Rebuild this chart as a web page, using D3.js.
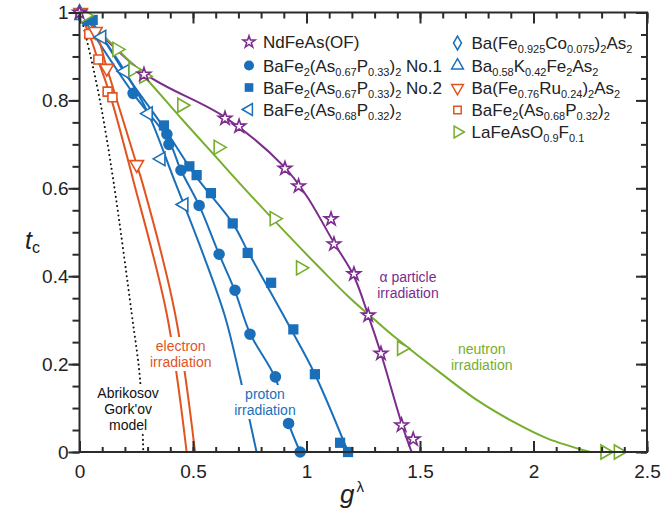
<!DOCTYPE html>
<html>
<head>
<meta charset="utf-8">
<script src="https://cdn.jsdelivr.net/npm/d3@7"></script>
<style>
  body { margin: 0; background: #fff; }
  svg { display: block; }
</style>
</head>
<body>
<div class="container"></div>
<script>
// ---- data (g_lambda, t_c) ----
const ndStars = [[0,1],[0.284,0.859],[0.641,0.759],[0.703,0.741],[0.905,0.645],[0.965,0.605],
  [1.108,0.530],[1.121,0.473],[1.209,0.405],[1.272,0.311],[1.328,0.224],[1.419,0.061],[1.470,0.029]];
const p1Circles = [[0.03,0.982],[0.236,0.816],[0.385,0.723],[0.394,0.700],[0.447,0.641],[0.527,0.561],
  [0.615,0.450],[0.685,0.368],[0.751,0.268],[0.863,0.171],[0.921,0.065],[0.972,0]];
const p2Squares = [[0.058,0.983],[0.372,0.743],[0.484,0.650],[0.516,0.630],[0.579,0.589],[0.675,0.520],
  [0.741,0.453],[0.844,0.385],[0.942,0.279],[1.037,0.177],[1.148,0.021],[1.183,0]];
const p3Triangles = [[0.098,0.944],[0.200,0.866],[0.303,0.770],[0.359,0.667],[0.460,0.563]];
const coDiamonds = [[0.0,1.0]];
const kTriangles = [[0.008,0.992]];
const ruTriangles = [[0.005,1.0],[0.070,0.957],[0.120,0.873],[0.252,0.654]];
const pSquares = [[0.005,0.995],[0.043,0.951],[0.083,0.893],[0.124,0.820],[0.145,0.807]];
const laTriangles = [[0.024,0.993],[0.165,0.916],[0.236,0.870],[0.284,0.855],[0.451,0.789],[0.611,0.693],
  [0.858,0.531],[0.974,0.419],[1.419,0.236],[2.315,0],[2.374,0]];

// guide curves
const ndFit = [[0,1],[0.284,0.862],[0.64,0.762],[0.90,0.650],[1.0,0.583],[1.121,0.476],[1.209,0.400],
  [1.272,0.311],[1.328,0.224],[1.419,0.065],[1.463,0]];
const laFit = [[0,1],[0.1,0.95],[0.284,0.855],[0.443,0.762],[0.6,0.672],[0.74,0.592],[0.94,0.482],
  [1.06,0.418],[1.19,0.351],[1.32,0.292],[1.40,0.257],[1.6,0.176],[1.76,0.115],[1.91,0.069],
  [2.06,0.031],[2.249,0]];
const p1Fit = [[0,1],[0.236,0.816],[0.39,0.712],[0.447,0.641],[0.527,0.561],[0.615,0.450],[0.685,0.366],
  [0.751,0.270],[0.863,0.168],[0.921,0.065],[0.972,0]];
const p2Fit = [[0,1],[0.058,0.975],[0.2,0.862],[0.369,0.740],[0.513,0.627],[0.678,0.518],[0.741,0.457],
  [0.84,0.365],[0.93,0.281],[1.037,0.177],[1.183,0]];
const p3Fit = [[0,1],[0.098,0.944],[0.2,0.866],[0.303,0.770],[0.413,0.625],[0.53,0.47],[0.64,0.31],
  [0.707,0.17],[0.78,0]];
const ruFit = [[0,1],[0.07,0.957],[0.12,0.875],[0.252,0.654],[0.274,0.618],[0.421,0.315],[0.509,0]];
const pFit = [[0,1],[0.043,0.95],[0.083,0.89],[0.135,0.812],[0.237,0.618],[0.384,0.315],[0.472,0]];
const agModel = [[0,1],[0.029,0.944],[0.09,0.80],[0.15,0.615],[0.23,0.315],[0.267,0.164],[0.281,0]];

const xMajor = [0,0.5,1,1.5,2,2.5];
const yMajor = [0,0.2,0.4,0.6,0.8,1];

const legendLeft = ["NdFeAs(OF)", "BaFe_{2}(As_{0.67}P_{0.33})_{2} No.1",
  "BaFe_{2}(As_{0.67}P_{0.33})_{2} No.2", "BaFe_{2}(As_{0.68}P_{0.32})_{2}"];
const legendRight = ["Ba(Fe_{0.925}Co_{0.075})_{2}As_{2}", "Ba_{0.58}K_{0.42}Fe_{2}As_{2}",
  "Ba(Fe_{0.76}Ru_{0.24})_{2}As_{2}", "BaFe_{2}(As_{0.68}P_{0.32})_{2}", "LaFeAsO_{0.9}F_{0.1}"];

const purple = "#7b2c8d", blue = "#1a6fba", orange = "#e1541f", green = "#76ae2d";
const font = "'Liberation Sans', Arial, sans-serif";

const w = 661, h = 525;
const svg = d3.select('.container').append('svg')
  .attr('width', w).attr('height', h)
  .style('font-family', font);

const x = d3.scaleLinear().domain([0, 2.5]).range([79.5, 647]);
const y = d3.scaleLinear().domain([0, 1]).range([452, 12.5]);

const line = d3.line().x(d => x(d[0])).y(d => y(d[1])).curve(d3.curveCatmullRom.alpha(0.5));

// curves
[[ndFit, purple], [laFit, green], [p1Fit, blue], [p2Fit, blue], [p3Fit, blue],
 [ruFit, orange], [pFit, orange]].forEach(function(c) {
  svg.append('path').attr('d', line(c[0]))
    .attr('fill', 'none').attr('stroke', c[1]).attr('stroke-width', 2);
});
svg.append('path').attr('d', line(agModel))
  .attr('fill', 'none').attr('stroke', '#111').attr('stroke-width', 2)
  .attr('stroke-dasharray', '0.1 4.6').attr('stroke-linecap', 'round');

// annotations, with white box behind them
function note(lines, gx, base, color, step) {
  const g = svg.append('g');
  const t = g.append('text').attr('text-anchor', 'middle')
    .attr('font-size', 14).attr('fill', color);
  lines.forEach(function(s, i) {
    t.append('tspan').attr('x', x(gx)).attr('y', base + i * step).text(s);
  });
  const b = t.node().getBBox();
  g.insert('rect', 'text').attr('x', b.x - 2).attr('y', b.y - 1)
    .attr('width', b.width + 4).attr('height', b.height + 2).attr('fill', '#fff');
}
note(['α particle', 'irradiation'], 1.447, 282, purple, 16);
note(['neutron', 'irradiation'], 1.772, 354, green, 16);
note(['electron', 'irradiation'], 0.446, 351, orange, 16);
note(['proton', 'irradiation'], 0.817, 399, blue, 16);
note(['Abrikosov', "Gork'ov", 'model'], 0.214, 398, '#111', 16);

// markers
function markers(pts, type, size, rot, color, filled) {
  svg.append('g').selectAll('path').data(pts).enter().append('path')
    .attr('d', d3.symbol().type(type).size(size))
    .attr('transform', d => 'translate(' + x(d[0]) + ',' + y(d[1]) + ') rotate(' + rot + ')')
    .attr('fill', filled ? color : '#fff')
    .attr('stroke', color).attr('stroke-width', filled ? 0 : 1.6);
}
markers(pSquares, d3.symbolSquare, 80, 0, orange, false);
markers(ruTriangles, d3.symbolTriangle, 80, 180, orange, false);
markers(p3Triangles, d3.symbolTriangle, 80, -90, blue, false);
markers(kTriangles, d3.symbolTriangle, 65, 0, blue, false);
markers(coDiamonds, d3.symbolDiamond, 65, 0, blue, false);
markers(p1Circles, d3.symbolCircle, 105, 0, blue, true);
markers(p2Squares, d3.symbolSquare, 105, 0, blue, true);
markers(laTriangles, d3.symbolTriangle, 85, 90, green, false);
markers(ndStars, d3.symbolStar, 55, 0, purple, false);

// axes frame and ticks
const axisColor = '#2b2b2b';
const minorX = d3.range(0, 2.501, 0.1).map(v => +v.toFixed(2));
const minorY = d3.range(0, 1.001, 0.05).map(v => +v.toFixed(2));

function tickAxis(axis, tr, vals, size) {
  const g = svg.append('g').attr('transform', tr)
    .call(axis.tickValues(vals).tickSize(size).tickFormat(''));
  g.select('.domain').remove();
  g.selectAll('line').attr('stroke', axisColor).attr('stroke-width', 2);
}
tickAxis(d3.axisBottom(x), 'translate(0,452)', minorX, -5);
tickAxis(d3.axisBottom(x), 'translate(0,452)', xMajor, -11);
tickAxis(d3.axisTop(x), 'translate(0,12.5)', minorX, -6);
tickAxis(d3.axisTop(x), 'translate(0,12.5)', xMajor, -11);
tickAxis(d3.axisLeft(y), 'translate(79.5,0)', minorY, 7);
tickAxis(d3.axisLeft(y), 'translate(79.5,0)', yMajor, 11);
tickAxis(d3.axisRight(y), 'translate(647,0)', minorY, -6);
tickAxis(d3.axisRight(y), 'translate(647,0)', yMajor, -11);

svg.append('rect').attr('x', 79.5).attr('y', 12.5)
  .attr('width', 647 - 79.5).attr('height', 452 - 12.5)
  .attr('fill', 'none').attr('stroke', axisColor).attr('stroke-width', 2);

// tick labels
const xl = svg.append('g').attr('transform', 'translate(0,452)')
  .call(d3.axisBottom(x).tickValues(xMajor).tickSize(0).tickPadding(13).tickFormat(d3.format('~g')));
xl.select('.domain').remove();
xl.selectAll('text').attr('font-size', 19).attr('font-family', font).attr('fill', '#222');

const yl = svg.append('g').attr('transform', 'translate(79.5,0)')
  .call(d3.axisLeft(y).tickValues(yMajor).tickSize(0).tickPadding(11).tickFormat(d3.format('~g')));
yl.select('.domain').remove();
yl.selectAll('text').attr('font-size', 19).attr('font-family', font).attr('fill', '#222');

// axis titles
const yt = svg.append('text').attr('x', 25).attr('y', 249).attr('fill', '#222');
yt.append('tspan').attr('font-size', 25).attr('font-style', 'italic').text('t');
yt.append('tspan').attr('font-size', 16).attr('dy', 4).text('c');

const xt = svg.append('text').attr('x', 340).attr('y', 503).attr('fill', '#222');
xt.append('tspan').attr('font-size', 26).attr('font-style', 'italic').text('g');
xt.append('tspan').attr('font-size', 15).attr('dx', 2).attr('dy', -11).text('λ');

// legend
function richText(sel, str) {
  const parts = str.split(/(_\{[^}]*\})/).filter(s => s.length);
  let sub = false;
  parts.forEach(function(p) {
    const m = p.match(/^_\{([^}]*)\}$/);
    if (m) {
      sel.append('tspan').attr('font-size', 11).attr('dy', sub ? 0 : 4).text(m[1]);
      sub = true;
    } else {
      sel.append('tspan').attr('font-size', 17).attr('dy', sub ? -4 : 0).text(p);
      sub = false;
    }
  });
}
const leftRows = [42, 65.5, 87.5, 109.5];
const leftSyms = [[d3.symbolStar, 45, 0, purple, false], [d3.symbolCircle, 80, 0, blue, true],
  [d3.symbolSquare, 75, 0, blue, true], [d3.symbolTriangle, 60, -90, blue, false]];
const rightRows = [43, 65.5, 88, 110, 132];
const rightSyms = [[d3.symbolDiamond, 55, 0, blue, false], [d3.symbolTriangle, 60, 0, blue, false],
  [d3.symbolTriangle, 60, 180, orange, false], [d3.symbolSquare, 55, 0, orange, false],
  [d3.symbolTriangle, 60, 90, green, false]];

function legendCol(items, rows, syms, mx, tx) {
  items.forEach(function(s, i) {
    const sy = syms[i];
    svg.append('path').attr('d', d3.symbol().type(sy[0]).size(sy[1]))
      .attr('transform', 'translate(' + mx + ',' + rows[i] + ') rotate(' + sy[2] + ')')
      .attr('fill', sy[4] ? sy[3] : '#fff').attr('stroke', sy[3])
      .attr('stroke-width', sy[4] ? 0 : 1.5);
    const t = svg.append('text').attr('x', tx).attr('y', rows[i] + 6).attr('fill', '#222');
    richText(t, s);
  });
}
legendCol(legendLeft, leftRows, leftSyms, 249, 263);
legendCol(legendRight, rightRows, rightSyms, 457.5, 471.5);
</script>
</body>
</html>
